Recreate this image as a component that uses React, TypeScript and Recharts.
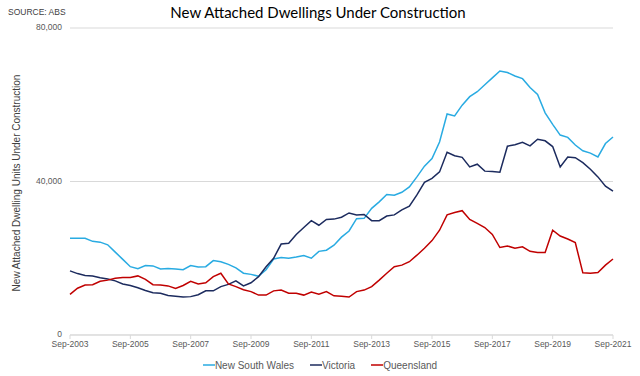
import React from 'react';
import { LineChart, Line, XAxis, YAxis, CartesianGrid, Legend, Label } from 'recharts';

const QUARTERS = [
  'Sep-2003', 'Dec-2003',
  'Mar-2004', 'Jun-2004', 'Sep-2004', 'Dec-2004',
  'Mar-2005', 'Jun-2005', 'Sep-2005', 'Dec-2005',
  'Mar-2006', 'Jun-2006', 'Sep-2006', 'Dec-2006',
  'Mar-2007', 'Jun-2007', 'Sep-2007', 'Dec-2007',
  'Mar-2008', 'Jun-2008', 'Sep-2008', 'Dec-2008',
  'Mar-2009', 'Jun-2009', 'Sep-2009', 'Dec-2009',
  'Mar-2010', 'Jun-2010', 'Sep-2010', 'Dec-2010',
  'Mar-2011', 'Jun-2011', 'Sep-2011', 'Dec-2011',
  'Mar-2012', 'Jun-2012', 'Sep-2012', 'Dec-2012',
  'Mar-2013', 'Jun-2013', 'Sep-2013', 'Dec-2013',
  'Mar-2014', 'Jun-2014', 'Sep-2014', 'Dec-2014',
  'Mar-2015', 'Jun-2015', 'Sep-2015', 'Dec-2015',
  'Mar-2016', 'Jun-2016', 'Sep-2016', 'Dec-2016',
  'Mar-2017', 'Jun-2017', 'Sep-2017', 'Dec-2017',
  'Mar-2018', 'Jun-2018', 'Sep-2018', 'Dec-2018',
  'Mar-2019', 'Jun-2019', 'Sep-2019', 'Dec-2019',
  'Mar-2020', 'Jun-2020', 'Sep-2020', 'Dec-2020',
  'Mar-2021', 'Jun-2021', 'Sep-2021',
];

const TICK_LABELS = [
  'Sep-2003', 'Sep-2005', 'Sep-2007', 'Sep-2009', 'Sep-2011',
  'Sep-2013', 'Sep-2015', 'Sep-2017', 'Sep-2019', 'Sep-2021',
];

const Y_TICKS = [0, 40000, 80000];

const NEW_SOUTH_WALES = [
  25200, 25200, 25200, 24400, 24200, 23500, 21600, 19700, 17800, 17300,
  18100, 18000, 17200, 17300, 17200, 17000, 18100, 17700, 17800, 19400,
  19100, 18400, 17500, 16100, 15800, 15300, 17000, 19800, 20200, 20000,
  20300, 20700, 20000, 21800, 22100, 23400, 25500, 27100, 30300, 30400,
  33000, 34700, 36600, 36400, 37200, 38600, 41200, 44000, 46000, 50300,
  57600, 57100, 59900, 62100, 63400, 65200, 67000, 68800, 68400, 67500,
  66800, 64500, 62700, 57900, 54900, 52100, 51500, 49500, 48000, 47400,
  46400, 49900, 51600,
];

const VICTORIA = [
  16700, 16000, 15500, 15400, 14900, 14600, 14100, 13300, 12900, 12300,
  11600, 11000, 10900, 10300, 10100, 9900, 10000, 10500, 11500, 11500,
  12600, 13200, 14100, 12800, 13600, 15200, 17800, 20000, 23700, 23900,
  26200, 28000, 29800, 28600, 30100, 30200, 30700, 31800, 31300, 31400,
  29800, 29800, 31000, 31300, 32600, 33600, 36500, 39800, 40800, 42500,
  47600, 46700, 46300, 43800, 44500, 42700, 42600, 42400, 49200, 49600,
  50200, 49300, 51000, 50600, 49100, 43800, 46400, 46200, 44900, 43200,
  41200, 38800, 37500,
];

const QUEENSLAND = [
  10600, 12200, 13000, 13100, 14000, 14300, 14800, 15000, 15000, 15400,
  14500, 13100, 13000, 12800, 12100, 12900, 14000, 13300, 13600, 15200,
  16100, 13300, 12600, 11800, 11300, 10400, 10400, 11500, 11700, 10900,
  10900, 10400, 11200, 10600, 11300, 10200, 10100, 9900, 11300, 11700,
  12600, 14300, 16100, 17800, 18200, 19100, 20800, 22600, 24600, 27300,
  31300, 31900, 32400, 30100, 29100, 28000, 26200, 22800, 23200, 22600,
  23000, 21800, 21500, 21500, 27300, 25800, 25000, 24100, 16200, 16100,
  16300, 18200, 19800,
];

const SERIES_NAMES = ['New South Wales', 'Victoria', 'Queensland'];

const COLORS = { nsw: '#29ABE2', vic: '#1C2B5E', qld: '#C00000' };

const data = QUARTERS.map((q, i) => ({
  q,
  nsw: NEW_SOUTH_WALES[i],
  vic: VICTORIA[i],
  qld: QUEENSLAND[i],
}));

const SANS = '"Liberation Sans", Arial, sans-serif';
const GRID = '#d9d9d9';
const TEXT = '#595959';

const legendItems = [
  { name: SERIES_NAMES[0], color: COLORS.nsw },
  { name: SERIES_NAMES[1], color: COLORS.vic },
  { name: SERIES_NAMES[2], color: COLORS.qld },
];

const renderLegend = () => (
  <div
    style={{
      display: 'flex',
      justifyContent: 'center',
      alignItems: 'center',
      height: 20,
      width: 640,
      fontFamily: SANS,
      fontSize: 10,
      color: TEXT,
    }}
  >
    {legendItems.map((it, i) => (
      <div
        key={it.name}
        style={{ display: 'flex', alignItems: 'center', marginLeft: i === 0 ? 0 : 16 }}
      >
        <svg width={12} height={10} style={{ display: 'block' }}>
          <line x1={0} x2={12} y1={5} y2={5} stroke={it.color} strokeWidth={1.5} />
        </svg>
        <span>{it.name}</span>
      </div>
    ))}
  </div>
);

const fmt = (v: number) => v.toLocaleString('en-US');

export default function App() {
  return (
    <div style={{ position: 'absolute', left: 0, top: 0, width: 640, height: 376, background: '#fff' }}>
      <div
        style={{
          position: 'absolute',
          left: 8,
          top: 7,
          fontFamily: SANS,
          fontSize: 8.5,
          color: '#404040',
          whiteSpace: 'nowrap',
        }}
      >
        SOURCE: ABS
      </div>
      <div
        style={{
          position: 'absolute',
          left: 0,
          top: 3,
          width: 636,
          textAlign: 'center',
          fontFamily: 'Lato, "Open Sans", sans-serif',
          fontSize: 15,
          color: '#000',
          whiteSpace: 'nowrap',
        }}
      >
        New Attached Dwellings Under Construction
      </div>
      <LineChart
        width={640}
        height={376}
        data={data}
        margin={{ top: 28, right: 27, bottom: 1, left: 0 }}
      >
        <CartesianGrid vertical={false} stroke={GRID} />
        <XAxis
          dataKey="q"
          ticks={TICK_LABELS}
          interval={0}
          height={20}
          tickSize={4}
          tickMargin={2}
          axisLine={{ stroke: GRID }}
          tickLine={{ stroke: GRID }}
          tick={{ fontSize: 8.5, fill: TEXT, fontFamily: '"Liberation Sans Narrow", "Arial Narrow", ' + SANS }}
        />
        <YAxis
          width={70}
          domain={[0, 80000]}
          ticks={Y_TICKS}
          tickFormatter={fmt}
          axisLine={false}
          tickLine={false}
          tick={{ fontSize: 8.5, fill: TEXT, fontFamily: SANS, dy: -1 }}
        >
          <Label
            content={() => (
              <text
                x={16}
                y={183}
                transform="rotate(-90 16 183)"
                textAnchor="middle"
                dominantBaseline="central"
                fontFamily={SANS}
                fontSize={10}
                fill="#404040"
              >
                New Attached Dwelling Units Under Construction
              </text>
            )}
          />
        </YAxis>
        <Legend
          verticalAlign="bottom"
          content={renderLegend}
          wrapperStyle={{ left: 0, width: 640, height: 20 }}
        />
        <Line
          type="linear"
          dataKey="nsw"
          name={SERIES_NAMES[0]}
          stroke={COLORS.nsw}
          strokeWidth={1.5}
          dot={false}
          isAnimationActive={false}
        />
        <Line
          type="linear"
          dataKey="vic"
          name={SERIES_NAMES[1]}
          stroke={COLORS.vic}
          strokeWidth={1.5}
          dot={false}
          isAnimationActive={false}
        />
        <Line
          type="linear"
          dataKey="qld"
          name={SERIES_NAMES[2]}
          stroke={COLORS.qld}
          strokeWidth={1.5}
          dot={false}
          isAnimationActive={false}
        />
      </LineChart>
    </div>
  );
}
